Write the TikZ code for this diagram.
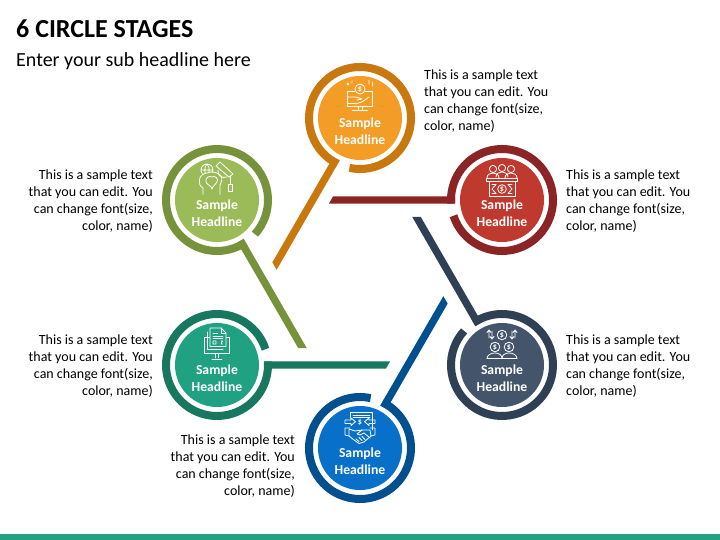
\documentclass[tikz,border=0pt]{standalone}
\usepackage{fontspec}
\setmainfont{Carlito}
\definecolor{oD}{HTML}{C8780C}\definecolor{oL}{HTML}{F39C26}
\definecolor{gD}{HTML}{76933C}\definecolor{gL}{HTML}{9BBB59}
\definecolor{rD}{HTML}{8B2525}\definecolor{rL}{HTML}{C0392F}
\definecolor{nD}{HTML}{2F3F54}\definecolor{nL}{HTML}{44546A}
\definecolor{tD}{HTML}{17785F}\definecolor{tL}{HTML}{1FA182}
\definecolor{bD}{HTML}{00508F}\definecolor{bL}{HTML}{0870C8}
\tikzset{
  x=1pt,y=1pt,
  bodytext/.style={font=\fontsize{14}{17}\selectfont,text=black,inner sep=0pt},
  discdisc/.style={font=\fontsize{13.7}{17}\selectfont\bfseries,text=white,inner sep=0pt,align=center},
  icon/.style={draw=white,line width=0.8pt,line join=round,line cap=round},
  dollar/.style={font=\fontsize{8}{8}\selectfont\bfseries,text=white,inner sep=0pt},
}
% #1 centre, #2 handle angle, #3 dark, #4 light, #5 name
\newcommand{\stagering}[5]{%
  \begin{scope}[shift={(#1)},rotate=#2]
    \draw[#3,line width=8pt] (18:51) arc[start angle=18,end angle=364,radius=51];
    \fill[#3] (47,-3.7) -- (47,3.7) -- (173.1,3.7) -- (168.9,-3.7) -- cycle;
  \end{scope}
  \node[circle,fill=#4,minimum size=84pt,inner sep=0pt] (#5) at (#1) {};
  \node[discdisc] (#5t) at ([yshift=-13.5pt]#5.center) {Sample\\Headline};
}
\begin{document}
\begin{tikzpicture}
\useasboundingbox (0,-540) rectangle (720,0);
\fill[white] (0,-540) rectangle (720,0);
\fill[tL] (0,-540) rectangle (720,-534);
\node[anchor=west,inner sep=0pt,font=\fontsize{26}{30}\selectfont\bfseries] (title) at (16,-29) {6 CIRCLE STAGES};
\node[anchor=west,inner sep=0pt,font=\fontsize{20}{24}\selectfont] (sub) at (16,-61.5) {Enter your sub headline here};

\stagering{360,-118}{240}{oD}{oL}{orange}
\stagering{217,-200}{300}{gD}{gL}{green}
\stagering{502,-200}{180}{rD}{rL}{red}
\stagering{217,-365}{0}{tD}{tL}{teal}
\stagering{502,-365}{120}{nD}{nL}{navy}
\stagering{360,-448}{60}{bD}{bL}{blue}

\node[bodytext,anchor=west,align=left] (to) at (424,-101.5) {This is a sample text\\that you can edit. You\\can change font(size,\\color, name)};
\node[bodytext,anchor=west,align=left] (tr) at (566,-201) {This is a sample text\\that you can edit. You\\can change font(size,\\color, name)};
\node[bodytext,anchor=west,align=left] (tn) at (566,-366) {This is a sample text\\that you can edit. You\\can change font(size,\\color, name)};
\node[bodytext,anchor=east,align=right] (tg) at (153,-201) {This is a sample text\\that you can edit. You\\can change font(size,\\color, name)};
\node[bodytext,anchor=east,align=right] (tt) at (153,-366) {This is a sample text\\that you can edit. You\\can change font(size,\\color, name)};
\node[bodytext,anchor=east,align=right] (tb) at (295,-466) {This is a sample text\\that you can edit. You\\can change font(size,\\color, name)};

% orange icon
\begin{scope}[shift={(360,-118)},yscale=-1]
  \draw[icon] (-5,-27) -- (-12.5,-27) -- (-12.5,-11.5) -- (12,-11.5) -- (12,-27) -- (5,-27);
  \draw[icon,fill=oL] (0,-29) circle[radius=5];
  \node[dollar] at (0,-29) {\$};
  \draw[icon] (-12.5,-21) -- (-7,-21) .. controls (-3,-21) and (-1,-20) .. (2,-19) -- (-3,-18);
  \draw[icon] (-12.5,-14.5) -- (-8,-14.5) .. controls (-2,-13) and (4,-17) .. (9,-21);
  \draw[icon] (-2,-11.5) -- (-2,-8.5) (2,-11.5) -- (2,-8.5) (-8,-7.5) -- (8,-7.5);
  \draw[icon] (-12,-34) circle[radius=1.1] (-8,-37) -- (-8,-35) (9,-38) -- (9,-34) (12.5,-36) -- (12.5,-32);
\end{scope}
% green icon
\begin{scope}[shift={(217,-200)},yscale=-1]
  \draw[icon] (-10,-30) circle[radius=6] (-16,-30) -- (-4,-30) (-10,-36) .. controls (-13,-33) and (-13,-27) .. (-10,-24) (-10,-36) .. controls (-7,-33) and (-7,-27) .. (-10,-24);
  \draw[icon,fill=gL] (-14,-5.5) -- (-14,-12) .. controls (-20,-15) and (-19,-26) .. (-10,-27) .. controls (-6,-29) and (1,-28) .. (4,-24) .. controls (6,-21) and (4,-17) .. (3,-15) -- (3,-5.5);
  \draw[icon] (-5,-11) .. controls (-5,-14) and (-10,-15) .. (-11,-18) .. controls (-12,-22) and (-8,-25) .. (-5,-23) .. controls (-2,-25) and (2,-21) .. (0,-18) .. controls (-1,-15) and (-4,-15) .. (-5,-11);
  \draw[icon,fill=gL] (-1,-34) -- (3,-38) -- (16,-26) -- (12,-23) -- cycle;
  \draw[icon] (1,-30) .. controls (0,-25) and (5,-21) .. (10,-23);
  \draw[icon] (13,-24) -- (13,-16) (11.5,-16) rectangle (15,-9);
\end{scope}
% red icon
\begin{scope}[shift={(502,-200)},yscale=-1]
  \foreach \px/\py in {-9/-31,9/-31,0/-32}{
    \draw[icon,fill=rL] (\px,\py) circle[radius=3.6];
    \draw[icon] (\px-6,\py+9) .. controls (\px-6,\py+5.5) and (\px-3,\py+4) .. (\px,\py+4) .. controls (\px+3,\py+4) and (\px+6,\py+5.5) .. (\px+6,\py+9);
  }
  \draw[icon,fill=rL] (-15.5,-21.5) rectangle (15.5,-18.5);
  \draw[icon] (-13,-18.5) rectangle (13,-3.5);
  \draw[icon] (0,-11) circle[radius=4.3];
  \node[dollar] at (0,-11) {\$};
  \draw[icon] (-6,-15.5) -- (-10,-11) -- (-6,-6.5) (6,-15.5) -- (10,-11) -- (6,-6.5);
  \draw[icon] (-10,-15.5) -- (-6.5,-15.5) (10,-15.5) -- (6.5,-15.5) (-10,-6.5) -- (-6.5,-6.5) (10,-6.5) -- (6.5,-6.5);
\end{scope}
% navy icon
\begin{scope}[shift={(502,-365)},yscale=-1]
  \foreach \px/\py in {0/-30,-7/-18,7/-18}{
    \draw[icon] (\px,\py) circle[radius=4.8];
    \node[dollar] at (\px,\py) {\$};
  }
  \draw[icon] (-13,-35) -- (-13,-27) (-13,-35) -- (-15,-32.5) (-13,-35) -- (-11,-32.5);
  \draw[icon] (-10,-34) -- (-10,-26) (-10,-26) -- (-12,-28.5) (-10,-26) -- (-8,-28.5);
  \draw[icon] (13,-35) -- (13,-27) (13,-35) -- (15,-32.5) (13,-35) -- (11,-32.5);
  \draw[icon] (10,-34) -- (10,-26) (10,-26) -- (12,-28.5) (10,-26) -- (8,-28.5);
  \draw[icon] (-15,-6.5) -- (15,-6.5);
  \draw[icon] (-15,-6.5) .. controls (-15,-10) and (-11,-12) .. (-7,-12) .. controls (-3,-12) and (0,-10) .. (0,-6.5) .. controls (0,-10) and (3,-12) .. (7,-12) .. controls (11,-12) and (15,-10) .. (15,-6.5);
\end{scope}
% teal icon
\begin{scope}[shift={(217,-365)},yscale=-1]
  \draw[icon] (-7,-28) -- (-12.5,-28) -- (-12.5,-11.5) -- (12,-11.5) -- (12,-28) -- (9,-28);
  \draw[icon] (-9.5,-33) -- (-9.5,-15.5) -- (6,-15.5);
  \draw[icon,fill=tL] (-7,-37) -- (4,-37) -- (9,-32) -- (9,-18.5) -- (-7,-18.5) -- cycle;
  \draw[icon] (4,-37) -- (4,-32) -- (9,-32);
  \draw[icon] (-4,-32) -- (1,-32) (-4,-29) -- (6,-29) (-4,-26.5) -- (6,-26.5);
  \draw[icon] (-4,-24) rectangle (-1,-21) (4,-24) -- (5.5,-24) -- (4,-21) -- (5.5,-21);
  \draw[icon] (-1.5,-11.5) -- (-1.5,-7) (1.5,-11.5) -- (1.5,-7) (-5,-6) -- (5,-6);
\end{scope}
% blue icon
\begin{scope}[shift={(360,-448)},yscale=-1]
  \draw[icon] (-10,-30) -- (-10,-36) -- (12,-36) -- (12,-18);
  \draw[icon] (-7,-33) -- (10,-33) (-7,-31) -- (10,-31);
  \node[dollar] at (0,-26) {\$};
  \draw[icon] (-15,-28) -- (-9,-28) -- (-9,-30) -- (-4.5,-26.3) -- (-9,-22.5) -- (-9,-24.5) -- (-15,-24.5) -- cycle;
  \draw[icon] (15,-28) -- (9,-28) -- (9,-30) -- (4.5,-26.3) -- (9,-22.5) -- (9,-24.5) -- (15,-24.5) -- cycle;
  \draw[icon] (-15,-20) -- (-15,-13) -- (-11,-12) (-10,-20) -- (-15,-20);
  \draw[icon] (15,-20) -- (15,-13) -- (11,-12) (10,-20) -- (15,-20);
  \draw[icon] (-11,-19) -- (-5,-17) -- (2,-18) -- (10,-18) -- (11,-12) -- (4,-6) -- (-1,-4.5) -- (-6,-8) -- (-11,-12) -- cycle;
  \draw[icon] (2,-18) -- (-3,-14) -- (0,-13) -- (4,-15) -- (10,-10);
  \draw[icon] (-4,-9) -- (-1,-6.5) (-1,-10.5) -- (2,-7.5) (2,-11.5) -- (5,-8.5);
\end{scope}
\end{tikzpicture}
\end{document}
